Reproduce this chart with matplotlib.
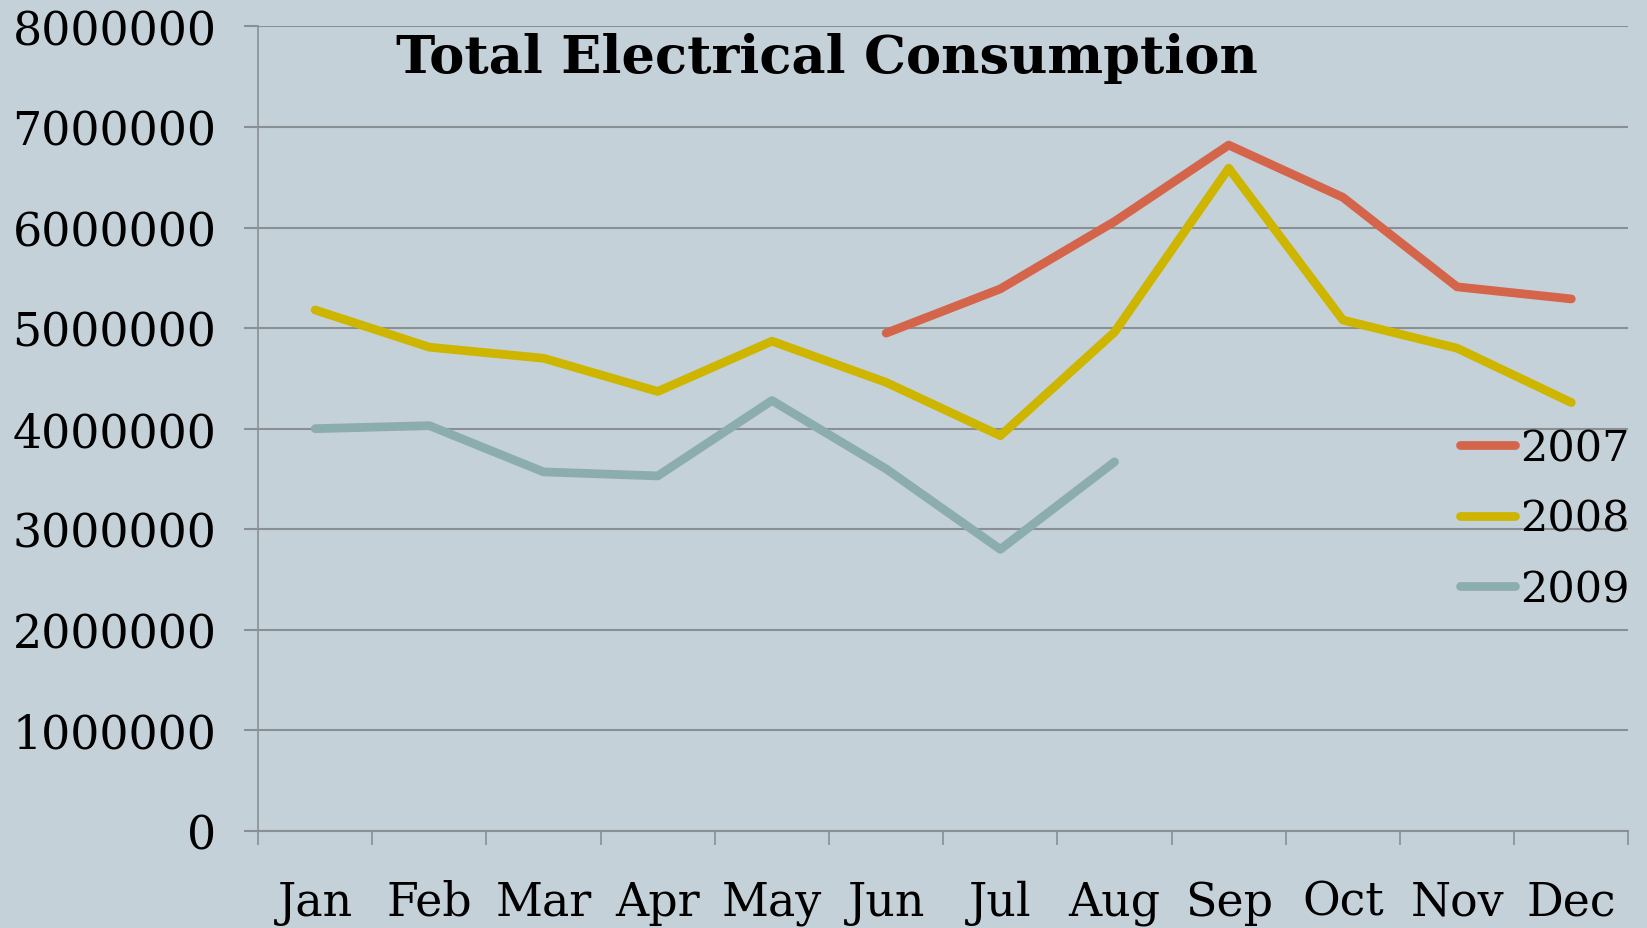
import matplotlib
matplotlib.use("Agg")
import matplotlib.pyplot as plt
import numpy as np

months = ["Jan", "Feb", "Mar", "Apr", "May", "Jun", "Jul", "Aug", "Sep", "Oct", "Nov", "Dec"]
series_names = ["2007", "2008", "2009"]
v2007 = [None, None, None, None, None, 4950000, 5390000, 6060000, 6820000, 6300000, 5410000, 5290000]
v2008 = [5180000, 4810000, 4700000, 4370000, 4870000, 4460000, 3930000, 4960000, 6590000, 5080000, 4800000, 4260000]
v2009 = [4000000, 4030000, 3570000, 3530000, 4280000, 3600000, 2800000, 3670000, None, None, None, None]
yticks = [0, 1000000, 2000000, 3000000, 4000000, 5000000, 6000000, 7000000, 8000000]
title = "Total Electrical Consumption"

colors = ["#D4654A", "#CDB500", "#8CADAE"]
bg = "#C5D1D8"
grid_c = "#8A8F94"

plt.rcParams['font.family'] = ['DejaVu Serif']

fig = plt.figure(figsize=(16.47, 9.29), dpi=100, facecolor=bg)
ax = fig.add_axes([0.1567, 0.1045, 0.832, 0.8660])
ax.set_facecolor(bg)

x = np.arange(len(months))
for name, vals, c in zip(series_names, [v2007, v2008, v2009], colors):
    y = np.array([np.nan if v is None else v for v in vals], dtype=float)
    ax.plot(x, y, color=c, lw=6.3, solid_capstyle='round', solid_joinstyle='round', label=name)

ax.set_xlim(-0.5, len(months) - 0.5)
ax.set_ylim(0, 8000000)
ax.set_yticks(yticks)
ax.set_yticklabels([str(v) for v in yticks])
ax.set_xticks(x)
ax.set_xticklabels(months)
ax.set_xticks(np.arange(-0.5, len(months), 1.0), minor=True)
ax.tick_params(axis='x', which='major', length=0, pad=35, labelsize=33)
ax.tick_params(axis='x', which='minor', length=10, width=1.2, color=grid_c, direction='out')
ax.tick_params(axis='y', length=10, width=1.5, color=grid_c, pad=20, labelsize=33)

ax.yaxis.grid(True, color=grid_c, lw=1.5)
ax.set_axisbelow(True)
for s in ['top', 'right']:
    ax.spines[s].set_visible(False)
ax.spines['left'].set_color(grid_c)
ax.spines['left'].set_linewidth(1.2)
ax.spines['bottom'].set_color(grid_c)
ax.spines['bottom'].set_linewidth(1.5)

leg = ax.legend(loc='upper left', bbox_to_anchor=(0.8865, 0.539), bbox_transform=fig.transFigure,
                frameon=False, fontsize=31, handlelength=1.28, handletextpad=0.12,
                labelspacing=0.66, borderaxespad=0, borderpad=0)

fig.text(0.502, 0.921, title, ha='center', va='baseline', fontsize=38, fontweight='bold')

fig.savefig("out.png", dpi=100, facecolor=bg)
